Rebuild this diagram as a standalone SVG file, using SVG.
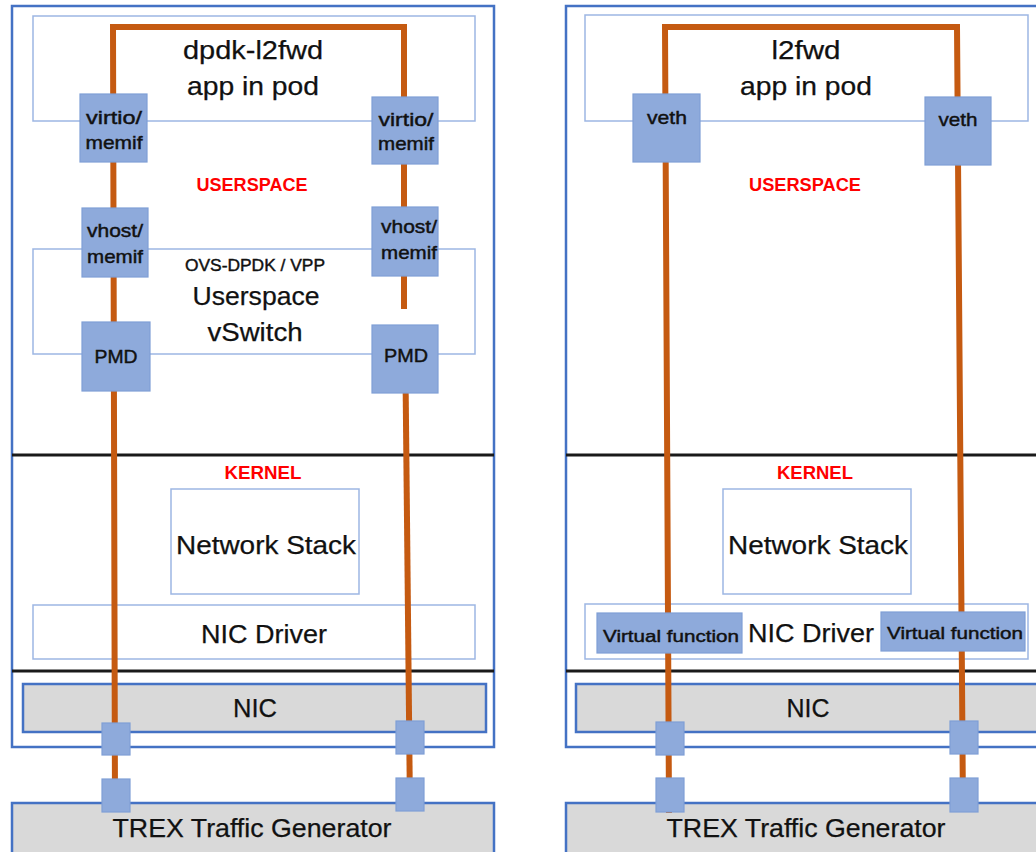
<svg xmlns="http://www.w3.org/2000/svg" width="1036" height="852" viewBox="0 0 1036 852">
<style>
text{font-family:"Liberation Sans",Arial,sans-serif;fill:#111;text-anchor:middle}
.big{font-size:26px;stroke:#111;stroke-width:0.25}
.sm{font-size:19px;stroke:#111;stroke-width:0.45}
.vf{font-size:17px;stroke:#111;stroke-width:0.45}
.ovs{font-size:16px;stroke:#111;stroke-width:0.4}
.red{fill:#FF0000;font-weight:bold;font-size:18px}
.frame{fill:none;stroke:#4472C4;stroke-width:2.5}
.thin{fill:none;stroke:#9DB6E3;stroke-width:1.5}
.port{fill:#8EAADB;stroke:#7F9FD6;stroke-width:1.2}
.bar{fill:#D9D9D9;stroke:#4472C4;stroke-width:2.5}
.sep{stroke:#1A1A1A;stroke-width:3}
.wire{fill:none;stroke:#C55A11;stroke-width:6;stroke-linejoin:miter}
</style>
<rect x="0" y="0" width="1036" height="852" fill="#FFFFFF"/>

<g id="left-panel">
  <rect class="frame" x="12" y="6" width="482" height="741"/>
  <g id="L-pod"><rect class="thin" x="33" y="16" width="442" height="105"/>
    <text class="big" x="253" y="59" textLength="140" lengthAdjust="spacingAndGlyphs">dpdk-l2fwd</text>
    <text class="big" x="253" y="95" textLength="132" lengthAdjust="spacingAndGlyphs">app in pod</text></g>
  <g id="L-vswitch"><rect class="thin" x="33" y="249" width="442" height="105"/>
    <text class="ovs" x="255" y="271" textLength="140" lengthAdjust="spacingAndGlyphs">OVS-DPDK / VPP</text>
    <text class="big" x="256" y="305" textLength="127" lengthAdjust="spacingAndGlyphs">Userspace</text>
    <text class="big" x="255" y="341" textLength="95" lengthAdjust="spacingAndGlyphs">vSwitch</text></g>
  <text class="red" x="252" y="191" textLength="111" lengthAdjust="spacingAndGlyphs">USERSPACE</text>
  <line class="sep" x1="12" y1="455" x2="494" y2="455"/>
  <text class="red" x="263" y="479" textLength="77" lengthAdjust="spacingAndGlyphs">KERNEL</text>
  <g id="L-netstack"><rect class="thin" x="171" y="489" width="188" height="105"/>
    <text class="big" x="266" y="554" textLength="180" lengthAdjust="spacingAndGlyphs">Network Stack</text></g>
  <g id="L-nicdriver"><rect class="thin" x="33" y="605" width="442" height="54"/>
    <text class="big" x="264" y="643" textLength="126" lengthAdjust="spacingAndGlyphs">NIC Driver</text></g>
  <line class="sep" x1="12" y1="671" x2="494" y2="671"/>
  <g id="L-nic"><rect class="bar" x="23" y="684" width="463" height="48"/>
    <text class="big" x="255" y="717" textLength="44" lengthAdjust="spacingAndGlyphs">NIC</text></g>
  <g id="L-trex"><rect class="bar" x="12" y="803" width="482" height="60"/>
    <text class="big" x="252" y="837" textLength="279" lengthAdjust="spacingAndGlyphs">TREX Traffic Generator</text></g>
</g>

<g id="right-panel">
  <rect class="frame" x="566" y="6" width="482" height="741"/>
  <g id="R-pod"><rect class="thin" x="585" y="15" width="443" height="106"/>
    <text class="big" x="806" y="59" textLength="69" lengthAdjust="spacingAndGlyphs">l2fwd</text>
    <text class="big" x="806" y="95" textLength="132" lengthAdjust="spacingAndGlyphs">app in pod</text></g>
  <text class="red" x="805" y="191" textLength="112" lengthAdjust="spacingAndGlyphs">USERSPACE</text>
  <line class="sep" x1="566" y1="455" x2="1036" y2="455"/>
  <text class="red" x="815" y="479" textLength="76" lengthAdjust="spacingAndGlyphs">KERNEL</text>
  <g id="R-netstack"><rect class="thin" x="723" y="489" width="188" height="105"/>
    <text class="big" x="818" y="554" textLength="180" lengthAdjust="spacingAndGlyphs">Network Stack</text></g>
  <g id="R-nicdriver"><rect class="thin" x="585" y="604" width="443" height="55"/>
    <text class="big" x="811" y="642" textLength="126" lengthAdjust="spacingAndGlyphs">NIC Driver</text></g>
  <line class="sep" x1="566" y1="671" x2="1036" y2="671"/>
  <g id="R-nic"><rect class="bar" x="576" y="684" width="472" height="48"/>
    <text class="big" x="808" y="717" textLength="43" lengthAdjust="spacingAndGlyphs">NIC</text></g>
  <g id="R-trex"><rect class="bar" x="566" y="803" width="482" height="60"/>
    <text class="big" x="806" y="837" textLength="279" lengthAdjust="spacingAndGlyphs">TREX Traffic Generator</text></g>
</g>

<g id="connectors">
  <path class="wire" d="M115,812 L113,27 H404 V309"/>
  <path class="wire" d="M405,325 L410,811"/>
  <path class="wire" d="M669,813 L665,27 H957 L963,812"/>
</g>

<g id="L-virtio-1"><rect class="port" x="80" y="94" width="67" height="68"/>
  <text class="sm" x="114" y="124" textLength="56" lengthAdjust="spacingAndGlyphs">virtio/</text>
  <text class="sm" x="114" y="149" textLength="57" lengthAdjust="spacingAndGlyphs">memif</text></g>
<g id="L-virtio-2"><rect class="port" x="372" y="97" width="66" height="67"/>
  <text class="sm" x="406" y="126" textLength="55" lengthAdjust="spacingAndGlyphs">virtio/</text>
  <text class="sm" x="406" y="150" textLength="56" lengthAdjust="spacingAndGlyphs">memif</text></g>
<g id="L-vhost-1"><rect class="port" x="82" y="208" width="66" height="69"/>
  <text class="sm" x="115" y="237" textLength="56" lengthAdjust="spacingAndGlyphs">vhost/</text>
  <text class="sm" x="115" y="263" textLength="56" lengthAdjust="spacingAndGlyphs">memif</text></g>
<g id="L-vhost-2"><rect class="port" x="372" y="207" width="66" height="69"/>
  <text class="sm" x="409" y="233" textLength="56" lengthAdjust="spacingAndGlyphs">vhost/</text>
  <text class="sm" x="409" y="259" textLength="56" lengthAdjust="spacingAndGlyphs">memif</text></g>
<g id="L-pmd-1"><rect class="port" x="82" y="322" width="68" height="69"/>
  <text class="sm" x="116" y="363" textLength="43" lengthAdjust="spacingAndGlyphs">PMD</text></g>
<g id="L-pmd-2"><rect class="port" x="372" y="325" width="66" height="68"/>
  <text class="sm" x="406" y="362" textLength="44" lengthAdjust="spacingAndGlyphs">PMD</text></g>
<g id="L-nicport-1"><rect class="port" x="102" y="723" width="28" height="32"/></g>
<g id="L-nicport-2"><rect class="port" x="396" y="721" width="28" height="33"/></g>
<g id="L-trexport-1"><rect class="port" x="102" y="779" width="28" height="33"/></g>
<g id="L-trexport-2"><rect class="port" x="396" y="778" width="28" height="33"/></g>

<g id="R-veth-1"><rect class="port" x="633" y="94" width="67" height="68"/>
  <text class="sm" x="667" y="124" textLength="40" lengthAdjust="spacingAndGlyphs">veth</text></g>
<g id="R-veth-2"><rect class="port" x="925" y="97" width="66" height="68"/>
  <text class="sm" x="958" y="126" textLength="39" lengthAdjust="spacingAndGlyphs">veth</text></g>
<g id="R-vf-1"><rect class="port" x="597" y="613" width="145" height="40"/>
  <text class="vf" x="671" y="642" textLength="136" lengthAdjust="spacingAndGlyphs">Virtual function</text></g>
<g id="R-vf-2"><rect class="port" x="881" y="612" width="144" height="39"/>
  <text class="vf" x="955" y="639" textLength="136" lengthAdjust="spacingAndGlyphs">Virtual function</text></g>
<g id="R-nicport-1"><rect class="port" x="656" y="722" width="28" height="33"/></g>
<g id="R-nicport-2"><rect class="port" x="950" y="721" width="28" height="33"/></g>
<g id="R-trexport-1"><rect class="port" x="656" y="778" width="28" height="34"/></g>
<g id="R-trexport-2"><rect class="port" x="950" y="778" width="28" height="34"/></g>
</svg>
